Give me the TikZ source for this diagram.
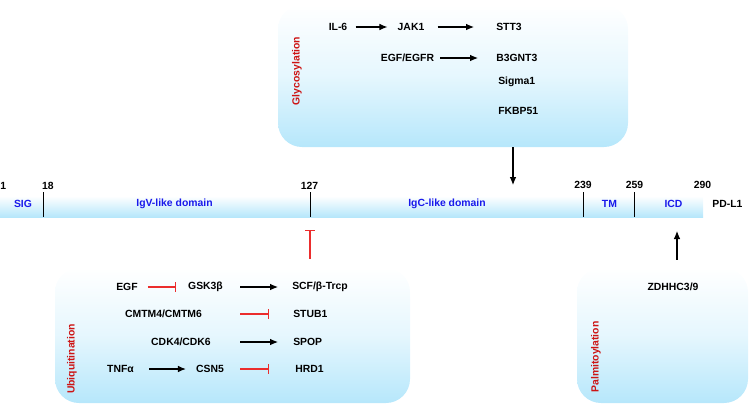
\documentclass[tikz,border=0pt]{standalone}
\usepackage{fontspec}
\setmainfont{Liberation Sans}
\usetikzlibrary{positioning,arrows.meta}
\definecolor{boxcyan}{RGB}{182,231,251}
\definecolor{domblue}{RGB}{25,25,235}
\definecolor{modred}{RGB}{205,20,20}
\definecolor{inhred}{RGB}{235,45,45}
\tikzstyle{ModBox}=[rounded corners=18pt, top color=white, bottom color=boxcyan, middle color=boxcyan!35!white, inner sep=0pt]
\tikzstyle{ModLabel}=[rotate=90, inner sep=0pt, text=modred, font=\fontsize{7.8}{9}\selectfont\bfseries]
\tikzstyle{Gene}=[inner sep=0pt, font=\fontsize{7.8}{9}\selectfont\bfseries]
\tikzstyle{Dom}=[Gene, text=domblue]
\tikzstyle{Act}=[-{Latex[length=6pt,width=5pt]}, thick]
\tikzstyle{Inh}=[-{Bar[width=7pt]}, thick, draw=inhred]

\begin{document}
\begin{tikzpicture}[x=0.75pt, y=-0.75pt]
      \useasboundingbox (0,0) rectangle (750,405);
      % modification boxes
      \node[ModBox, minimum width=262.5pt, minimum height=106.5pt] (glyco) at (453,76) {};
      \node[ModBox, minimum width=266.25pt, minimum height=101.25pt] (ubiq) at (232.5,335.5) {};
      \node[ModBox, minimum width=128.25pt, minimum height=101.25pt] (palm) at (662.5,335.5) {};
      \node[ModLabel] (glycolab) at (297,71) {Glycosylation};
      \node[ModLabel] (ubiqlab) at (72,359) {Ubiquitination};
      \node[ModLabel] (palmlab) at (596,357) {Palmitoylation};

      % PD-L1 bar
      \node[top color=white, bottom color=boxcyan, inner sep=0pt, minimum width=527.25pt, minimum height=15.75pt] (bar) at (351.5,206.5) {};
      \foreach \x in {43,310,583,634}
        \draw[semithick] (\x,192) -- (\x,217);
      \coordinate (t127) at (310,217);
      \coordinate (tglyco) at (513,196);
      \coordinate (tpalm) at (677,217);
      \node[Gene, anchor=west] (p1) at (0,186) {1};
      \node[Gene] (p18) at (48,186) {18};
      \node[Gene] (p127) at (309.5,186) {127};
      \node[Gene] (p239) at (583,185) {239};
      \node[Gene] (p259) at (634.5,185) {259};
      \node[Gene] (p290) at (702.5,185) {290};
      \node[Dom] (sig) at (23,204) {SIG};
      \node[Dom] (igv) at (174.5,204) {IgV-like domain};
      \node[Dom] (igc) at (447,204) {IgC-like domain};
      \node[Dom] (tm) at (609.5,204) {TM};
      \node[Dom] (icd) at (673.5,204) {ICD};
      \node[Gene] (pdl1) at (727.5,204) {PD-L1};

      % glycosylation
      \node[Gene] (il6) at (338,27) {IL-6};
      \node[Gene] (jak1) at (411,27) {JAK1};
      \node[Gene, anchor=west] (stt3) at (496,27) {STT3};
      \node[Gene] (egfr) at (407.5,58) {EGF/EGFR};
      \node[Gene, anchor=west] (b3gnt3) at (496,58) {B3GNT3};
      \node[Gene, anchor=west] (sigma1) at (498,82) {Sigma1};
      \node[Gene, anchor=west] (fkbp51) at (498,111) {FKBP51};
      \draw[Act, shorten <=6pt, shorten >=7.5pt] (il6) -- (jak1);
      \draw[Act, shorten <=9.75pt, shorten >=16.5pt] (jak1) -- (stt3);
      \draw[Act, shorten <=4.5pt, shorten >=13.5pt] (egfr) -- (b3gnt3);

      % ubiquitination
      \node[Gene] (egf) at (127,287) {EGF};
      \node[Gene] (gsk) at (205.5,287) {GSK3β};
      \node[Gene, anchor=west] (scf) at (292,287) {SCF/β-Trcp};
      \node[Gene] (cmtm) at (163.5,314) {CMTM4/CMTM6};
      \node[Gene, anchor=west] (stub1) at (293,314) {STUB1};
      \node[Gene] (cdk) at (181,342) {CDK4/CDK6};
      \node[Gene, anchor=west] (spop) at (293,342) {SPOP};
      \node[Gene] (tnf) at (120.5,369) {TNFα};
      \node[Gene] (csn5) at (210,369) {CSN5};
      \node[Gene, anchor=west] (hrd1) at (295,369) {HRD1};
      \draw[Inh, shorten <=7.5pt, shorten >=9pt] (egf) -- (gsk);
      \draw[Act, shorten <=12.75pt, shorten >=10.5pt] (gsk) -- (scf);
      \draw[Inh, shorten <=28.5pt, shorten >=18pt] (cmtm) -- (stub1);
      \draw[Act, shorten <=21.75pt, shorten >=11.25pt] (cdk) -- (spop);
      \draw[Act, shorten <=11.25pt, shorten >=7.5pt] (tnf) -- (csn5);
      \draw[Inh, shorten <=12pt, shorten >=19.5pt] (csn5) -- (hrd1);

      % palmitoylation
      \node[Gene] (zdhhc) at (673,287) {ZDHHC3/9};

      % links to PD-L1
      \draw[Act, shorten >=8.25pt] (glyco.south -| tglyco) -- (tglyco);
      \draw[Inh, shorten <=6.75pt, shorten >=9.75pt] (ubiq.north -| t127) -- (t127);
      \draw[Act, shorten <=6pt, shorten >=10.5pt] (palm.north -| tpalm) -- (tpalm);
\end{tikzpicture}
\end{document}
